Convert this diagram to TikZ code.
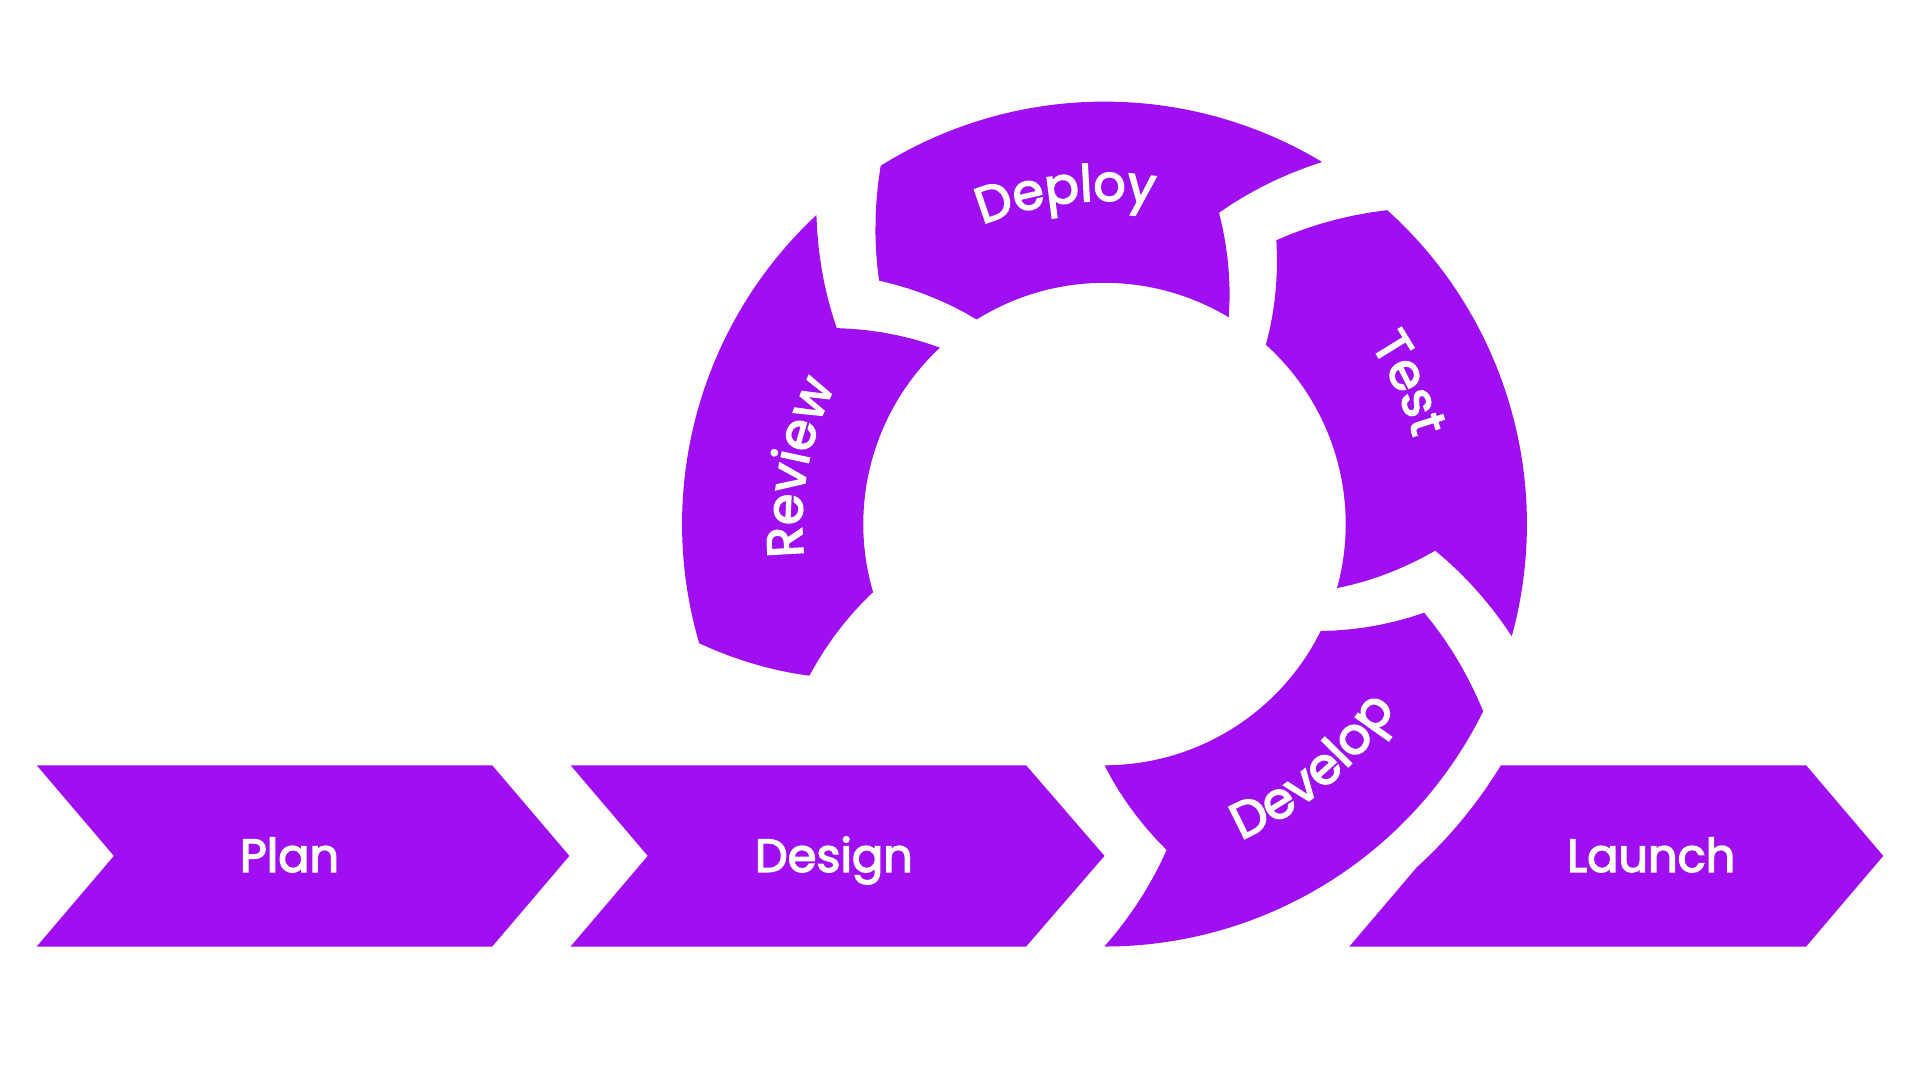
\documentclass[tikz,border=0pt]{standalone}
\usepackage{fontspec}
\setmainfont{Poppins}
\newfontfamily\stagefamily{Poppins}[FakeBold=3]
\usepackage{xcolor}
\usepackage{tikz}
\usetikzlibrary{decorations.text}

\definecolor{cyclepurple}{RGB}{160,14,242}
\newcommand\stagefont{\stagefamily\fontsize{21.5pt}{25pt}\selectfont}
\newcommand\ringfont{\stagefamily\fontsize{23.5pt}{27pt}\selectfont}

\begin{document}
\begin{tikzpicture}[x=0.2mm,y=0.2mm,
  seg/.style={fill=cyclepurple},
  stagelabel/.style={text=white,font=\stagefont,anchor=base},
  arclabel/.style={decorate,decoration={text along path,text align=center,
    text color=white,text={|\ringfont|#1}}}]
\useasboundingbox (0,0) rectangle (1568,882);

% Straight chevrons
\fill[seg] (30,257) -- (402,257) -- (465,183) -- (402,109) -- (30,109) -- (93,183) -- cycle;
\fill[seg] (466,257) -- (838,257) -- (902,183) -- (838,109) -- (466,109) -- (529,183) -- cycle;
\fill[seg] (1225.8,257) -- (1475,257) -- (1538,183) -- (1475,109) -- (1102,109) -- (1157,173.65)
  arc[start angle=-47.70, end angle=-31.31, radius=379] -- cycle;

\node[stagelabel] (plan) at (236.5,170) {Plan};
\node[stagelabel] (design) at (681,170) {Design};
\node[stagelabel] (launch) at (1348.5,170) {Launch};

% Ring segments, notch at start, point at end
\begin{scope}[shift={(902,454)}]
\foreach \sa/\ea in {-90/-26.3, -15.4/48, 59/122, 133/196.4} {
  \fill[seg] (\sa:345) arc[start angle=\sa, end angle=\ea, radius=345]
    -- plot[variable=\t, domain=0:1, samples=8] ({\ea+10.8*\t}:{345-74*\t})
    -- plot[variable=\t, domain=0:1, samples=8] ({\ea+10.8-10.8*\t}:{271-74*\t})
    arc[start angle=\ea, end angle=\sa, radius=197]
    -- plot[variable=\t, domain=0:1, samples=8] ({\sa+10.8*\t}:{197+74*\t})
    -- plot[variable=\t, domain=0:1, samples=8] ({\sa+10.8-10.8*\t}:{271+74*\t})
    -- cycle;
}

% Curved labels
\path[arclabel=Deploy] (136.7:264) arc[start angle=136.7, end angle=56.7, radius=264];
\path[arclabel=Review] (209.5:247) arc[start angle=209.5, end angle=129.5, radius=247];
\path[arclabel=Test] (64.8:262) arc[start angle=64.8, end angle=-15.2, radius=262];
\path[arclabel=Develop] (-89.5:281) arc[start angle=-89.5, end angle=-9.5, radius=281];
\end{scope}
\end{tikzpicture}
\end{document}
